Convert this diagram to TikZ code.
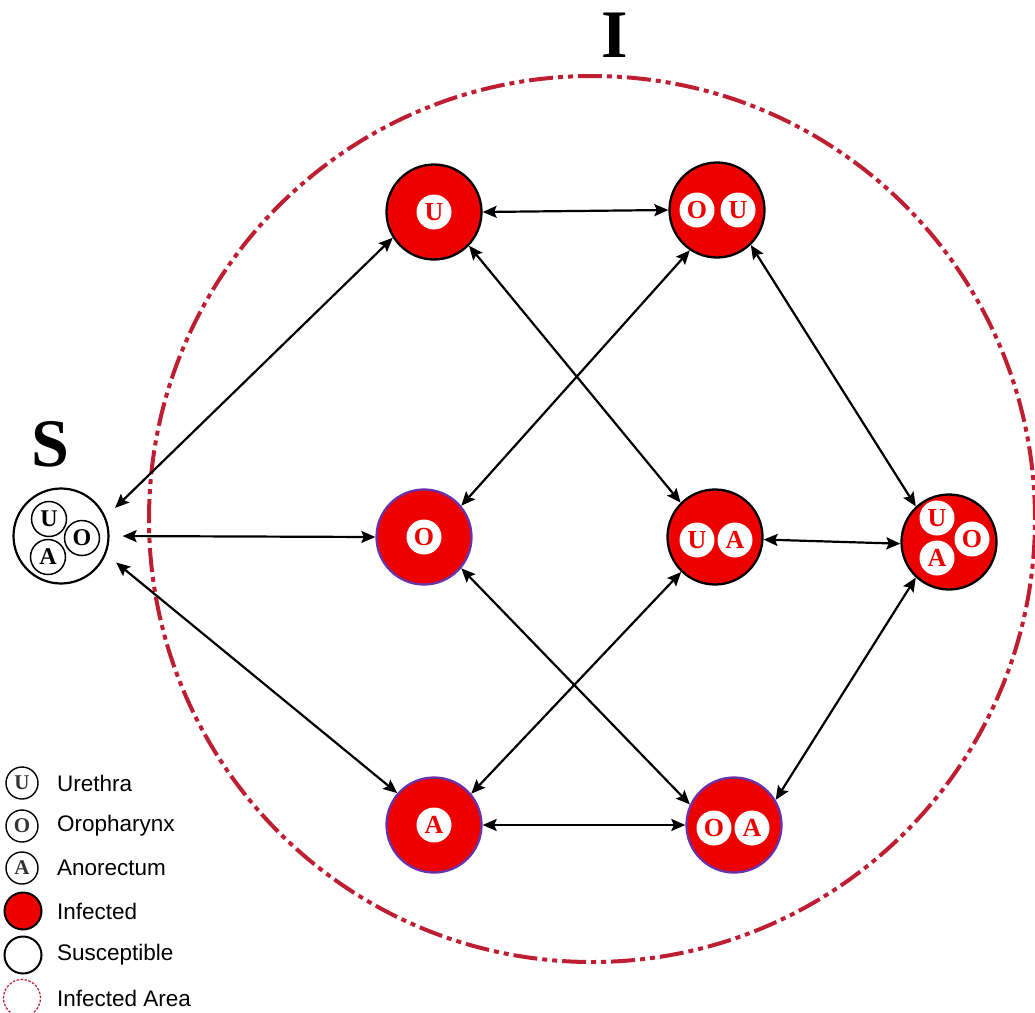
\documentclass[tikz,border=0pt]{standalone}
\usepackage{fontspec}
\setmainfont{Liberation Serif}
\newfontfamily\legfont{Liberation Sans}
\usetikzlibrary{arrows.meta}
\definecolor{infred}{RGB}{236,0,0}
\definecolor{areared}{RGB}{190,30,50}
\definecolor{purpb}{RGB}{105,50,170}
\tikzset{
 state/.style={circle, draw=black, line width=2.3pt, fill=infred, minimum size=95pt, inner sep=0pt},
 statep/.style={state, draw=purpb},
 susc/.style={circle, draw=black, line width=2.2pt, fill=white, minimum size=95pt, inner sep=0pt},
 site/.style={circle, fill=white, minimum size=35pt, inner sep=0pt, text=infred, font=\bfseries\fontsize{26}{26}\selectfont},
 ssite/.style={circle, draw=black, line width=1.5pt, fill=white, minimum size=35pt, inner sep=0pt, font=\bfseries\fontsize{24}{24}\selectfont},
 lsite/.style={circle, draw=black, line width=1.4pt, minimum size=32pt, inner sep=0pt, text=black!80, font=\bfseries\fontsize{21}{21}\selectfont},
 ltext/.style={anchor=west, inner sep=0pt, font=\legfont\fontsize{22.5}{22.5}\selectfont},
 arr/.style={{Stealth[length=14pt,width=12pt,inset=2.5pt]}-{Stealth[length=14pt,width=12pt,inset=2.5pt]}, line width=2.2pt},
 area/.style={draw=areared, line width=4pt, dash pattern=on 24pt off 5pt on 5pt off 5pt on 5pt off 5pt},
 big/.style={inner sep=0pt, font=\bfseries\fontsize{68}{68}\selectfont}
}
\begin{document}
\begin{tikzpicture}[x=1pt,y=-1pt]
\useasboundingbox (0,0) rectangle (1035,1012);
% infected area
\node[circle, minimum size=886pt, inner sep=0pt] (area) at (592,519) {};
\draw[area] (area.center) circle[radius=443pt];
\node[big] (Ilab) at (615,35) {I};
\node[big] (Slab) at (50,444) {S};
% susceptible
\node[susc] (S) at (61,536) {};
\node[ssite] (Su) at (49,519) {U};
\node[ssite] (So) at (82,538) {O};
\node[ssite] (Sa) at (48,557) {A};
% infected states
\node[state] (U) at (434,212) {};
\node[site] (Uu) at (U.center) {U};
\node[state] (OU) at (717,210) {};
\node[site] (OUo) at (697,210) {O};
\node[site] (OUu) at (738,210) {U};
\node[statep] (O) at (424,537) {};
\node[site] (Oo) at (O.center) {O};
\node[state] (UA) at (715,537) {};
\node[site] (UAu) at (697,540) {U};
\node[site] (UAa) at (735,540) {A};
\node[state] (UOA) at (949,542) {};
\node[site] (UOAu) at (937,518) {U};
\node[site] (UOAo) at (972,539) {O};
\node[site] (UOAa) at (937,558) {A};
\node[statep] (A) at (434,825) {};
\node[site] (Aa) at (A.center) {A};
\node[statep] (OA) at (734,825) {};
\node[site] (OAo) at (714,828) {O};
\node[site] (OAa) at (752,828) {A};
% connectors
\draw[arr, shorten <=13pt] (S.23) -- (U.212);
\draw[arr, shorten <=13pt] (S.0) -- (O.180);
\draw[arr, shorten <=13pt] (S.-22) -- (A.139);
\draw[arr] (U.0) -- (OU.180);
\draw[arr] (U.-44) -- (UA.135);
\draw[arr] (OU.-124) -- (O.40);
\draw[arr] (OU.-46) -- (UOA.133);
\draw[arr] (O.-40) -- (OA.155);
\draw[arr] (UA.-134) -- (A.40);
\draw[arr] (UA.-3) -- (UOA.182);
\draw[arr] (UOA.-133) -- (OA.31);
\draw[arr] (A.0) -- (OA.180);
% legend
\node[lsite] (LU) at (22,783) {U};
\node[ltext] (LUt) at (57,783) {Urethra};
\node[lsite] (LO) at (22,826) {O};
\node[ltext] (LOt) at (57,826) {Oropharynx};
\node[lsite] (LA) at (22,868) {A};
\node[ltext] (LAt) at (57,868) {Anorectum};
\node[circle, draw=black, line width=2pt, fill=infred, minimum size=37pt, inner sep=0pt] (LI) at (23,911) {};
\node[ltext] (LIt) at (57,911) {Infected};
\node[circle, draw=black, line width=2pt, minimum size=37pt, inner sep=0pt] (LS) at (23,955) {};
\node[ltext] (LSt) at (57,955) {Susceptible};
\node[circle, draw=areared, line width=1.2pt, dash pattern=on 2.5pt off 1.5pt, minimum size=37pt, inner sep=0pt] (LR) at (22,998) {};
\node[ltext] (LRt) at (57,998) {Infected Area};
\end{tikzpicture}
\end{document}
